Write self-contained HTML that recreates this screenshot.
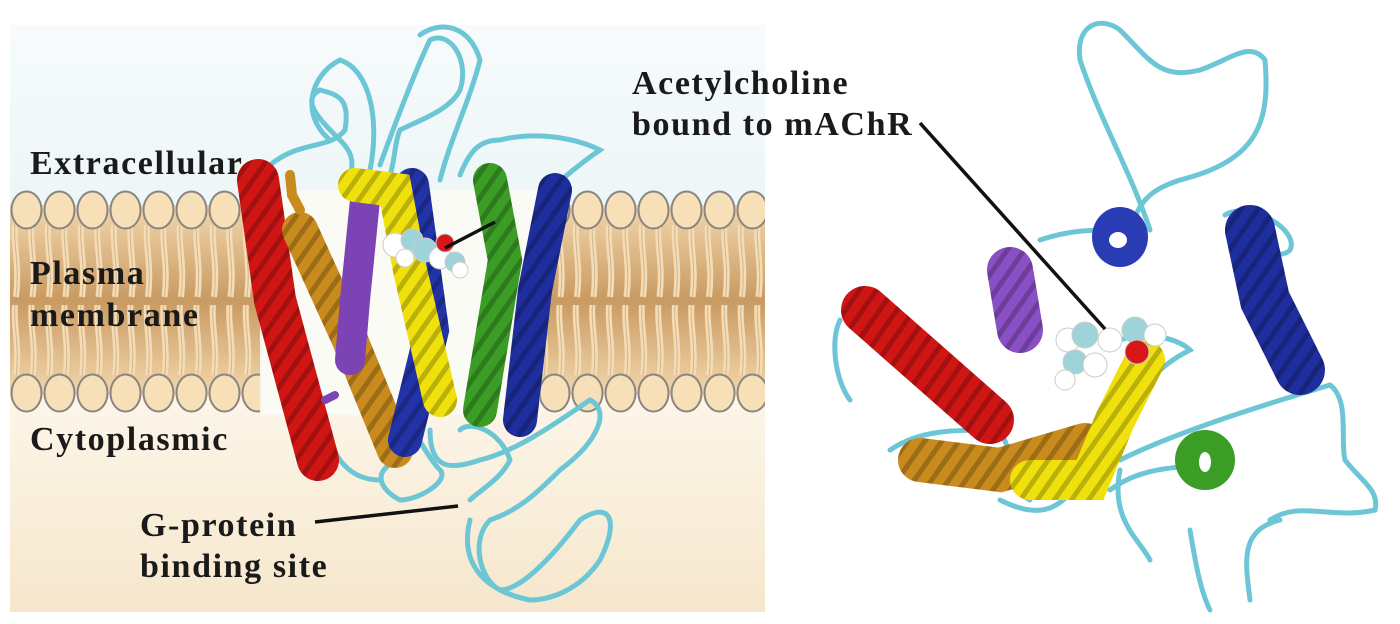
<!DOCTYPE html>
<html><head><meta charset="utf-8"><style>
html,body{margin:0;padding:0;background:#fff;width:1400px;height:624px;overflow:hidden}
svg{display:block}
.t{font-family:"Liberation Serif",serif;font-weight:bold;font-size:34px;letter-spacing:1.6px;fill:#1a1a1a}
</style></head><body>
<svg width="1400" height="624" viewBox="0 0 1400 624" xmlns="http://www.w3.org/2000/svg">
<defs>
<linearGradient id="bg" x1="0" y1="0" x2="0" y2="1">
<stop offset="0" stop-color="#f7fbfc"/><stop offset="0.3" stop-color="#edf6f8"/>
<stop offset="0.65" stop-color="#fcf5e8"/><stop offset="1" stop-color="#f6e7cc"/>
</linearGradient>
<linearGradient id="mem" x1="0" y1="0" x2="0" y2="1">
<stop offset="0" stop-color="#f2d7ad"/><stop offset="0.5" stop-color="#c99a62"/><stop offset="1" stop-color="#f2d7ad"/>
</linearGradient>
<pattern id="headsT" x="10" y="190" width="33" height="40" patternUnits="userSpaceOnUse">
<ellipse cx="16.5" cy="20" rx="15" ry="18.5" fill="#f7dfb8" stroke="#8a8580" stroke-width="2"/>
</pattern>
<pattern id="headsB" x="10" y="373" width="33" height="40" patternUnits="userSpaceOnUse">
<ellipse cx="16.5" cy="20" rx="15" ry="18.5" fill="#f7dfb8" stroke="#8a8580" stroke-width="2"/>
</pattern>
<pattern id="tails" x="10" y="225" width="16.5" height="80" patternUnits="userSpaceOnUse">
<path d="M5 0 C3 20 10 40 6 72" stroke="#f6dcb2" stroke-width="6" fill="none"/>
<path d="M5 0 C3 20 10 40 6 72" stroke="#a08f7f" stroke-width="1" fill="none" opacity="0.5"/>
</pattern>
<pattern id="stripe" width="14" height="14" patternUnits="userSpaceOnUse" patternTransform="rotate(35)">
<rect width="14" height="14" fill="none"/><rect width="5" height="14" fill="#000" opacity="0.22"/>
</pattern>
</defs>
<rect x="10" y="25" width="755" height="587" fill="url(#bg)"/>
<g>
<rect x="10" y="205" width="250" height="190" fill="url(#mem)"/>
<rect x="10" y="225" width="250" height="150" fill="url(#tails)"/>
<rect x="10" y="190" width="250" height="40" fill="url(#headsT)"/>
<rect x="10" y="373" width="250" height="40" fill="url(#headsB)"/>
</g>
<g>
<rect x="530" y="205" width="235" height="190" fill="url(#mem)"/>
<rect x="530" y="225" width="235" height="150" fill="url(#tails)"/>
<rect x="530" y="190" width="235" height="40" fill="url(#headsT)"/>
<rect x="530" y="373" width="235" height="40" fill="url(#headsB)"/>
</g>
<path d="M262 190 L540 190 L540 415 L262 415Z" fill="#fbfbf6"/>
<g fill="none" stroke="#6cc6d6" stroke-width="5" stroke-linecap="round">
<path d="M270 165 C300 140 330 150 345 130 C350 100 340 95 320 90 C300 100 320 120 340 140 C350 150 355 160 350 175"/>
<path d="M330 140 C300 115 310 75 340 60 C370 70 380 120 370 170"/>
<path d="M380 165 C400 110 420 60 430 40 C450 30 470 60 460 90 C450 110 420 120 400 130 C395 140 395 160 390 175"/>
<path d="M420 35 C440 20 470 25 480 60 C470 100 450 140 440 180"/>
<path d="M460 175 C470 150 480 140 500 140 C540 130 580 140 600 150 C585 160 560 180 545 195"/>
<path d="M400 410 C420 440 430 460 440 470 C450 480 420 500 400 500 C380 490 370 470 400 460"/>
<path d="M430 430 C430 470 450 470 480 460 C520 450 560 420 590 400 C610 410 600 440 560 470 C540 490 520 510 490 520 C470 540 480 580 500 590 C520 590 550 560 580 520 C610 500 620 520 600 560 C580 590 550 600 530 600 C480 590 460 560 470 520"/>
<path d="M460 430 C470 420 500 430 510 460 C500 480 480 490 470 500"/>
<path d="M330 440 C340 470 360 480 380 480"/>
</g>
<g stroke-linecap="round" fill="none">
<path d="M258 180 L275 300 L318 460" stroke="#d01515" stroke-width="42"/>
<path d="M258 180 L275 300 L318 460" stroke="url(#stripe)" stroke-width="42"/>
<path d="M300 230 L350 340 L395 450" stroke="#c98a1e" stroke-width="36"/>
<path d="M300 230 L350 340 L395 450" stroke="url(#stripe)" stroke-width="36"/>
<path d="M290 175 L292 195 L300 210" stroke="#c98a1e" stroke-width="10"/>
<path d="M365 200 L355 300 L350 360" stroke="#7b43b3" stroke-width="30"/>
<path d="M412 185 L432 330 L405 440" stroke="#2233a8" stroke-width="34"/>
<path d="M412 185 L432 330 L405 440" stroke="url(#stripe)" stroke-width="34"/>
<path d="M355 185 L395 190 L410 270 L440 400" stroke="#f0e10c" stroke-width="34"/>
<path d="M355 185 L395 190 L410 270 L440 400" stroke="url(#stripe)" stroke-width="34"/>
<path d="M490 180 L505 260 L480 410" stroke="#3b9c26" stroke-width="34"/>
<path d="M490 180 L505 260 L480 410" stroke="url(#stripe)" stroke-width="34"/>
<path d="M555 190 L535 290 L520 420" stroke="#1e2e9c" stroke-width="34"/>
<path d="M555 190 L535 290 L520 420" stroke="url(#stripe)" stroke-width="34"/>
<path d="M335 395 L325 400" stroke="#7b43b3" stroke-width="8"/>
</g>
<g stroke="#ccc" stroke-width="1">
<circle cx="395" cy="245" r="12" fill="#fff"/><circle cx="412" cy="240" r="11" fill="#9fd3da"/>
<circle cx="425" cy="250" r="12" fill="#9fd3da"/><circle cx="440" cy="258" r="11" fill="#fff"/>
<circle cx="455" cy="262" r="10" fill="#9fd3da"/><circle cx="445" cy="243" r="9" fill="#d81818"/>
<circle cx="405" cy="258" r="9" fill="#fff"/><circle cx="460" cy="270" r="8" fill="#fff"/>
</g>
<g fill="none" stroke="#6cc6d6" stroke-width="5" stroke-linecap="round">
<path d="M1150 230 C1130 170 1100 120 1080 60 C1075 25 1100 15 1120 30 C1150 60 1160 80 1200 70 C1230 60 1250 40 1265 60 C1270 120 1260 160 1180 180 C1150 190 1140 200 1130 230"/>
<path d="M1040 240 C1070 230 1090 230 1115 230"/>
<path d="M1225 215 C1250 200 1300 230 1290 250 C1280 260 1260 250 1250 240"/>
<path d="M1120 340 C1150 330 1180 340 1190 350 C1170 360 1140 380 1130 420"/>
<path d="M1120 460 C1180 430 1280 400 1330 385 C1350 400 1340 440 1345 460 C1360 480 1380 490 1375 510 C1330 520 1300 500 1270 520"/>
<path d="M1110 490 C1150 460 1200 470 1230 460"/>
<path d="M1190 530 C1195 560 1200 590 1210 610"/>
<path d="M1250 600 C1245 560 1240 530 1280 520"/>
<path d="M840 320 C830 340 835 380 850 400"/>
<path d="M890 450 C920 430 950 430 1000 430 C1020 470 1010 490 1030 500"/>
<path d="M1000 500 C1040 520 1060 510 1080 480"/>
<path d="M1120 470 C1110 520 1140 540 1150 560"/>
</g>
<g stroke-linecap="round" fill="none">
<path d="M865 310 L990 420" stroke="#d01515" stroke-width="48"/>
<path d="M865 310 L990 420" stroke="url(#stripe)" stroke-width="48"/>
<path d="M920 460 L1000 470 L1085 445" stroke="#c98a1e" stroke-width="44"/>
<path d="M920 460 L1000 470 L1085 445" stroke="url(#stripe)" stroke-width="44"/>
<path d="M1145 360 L1115 420 L1090 480 L1030 480" stroke="#f0e10c" stroke-width="40"/>
<path d="M1145 360 L1115 420 L1090 480 L1030 480" stroke="url(#stripe)" stroke-width="40"/>
<path d="M1010 270 L1020 330" stroke="#8a4fc4" stroke-width="46"/>
<path d="M1010 270 L1020 330" stroke="url(#stripe)" stroke-width="46"/>
<path d="M1250 230 L1265 300 L1300 370" stroke="#1e2e9c" stroke-width="50"/>
<path d="M1250 230 L1265 300 L1300 370" stroke="url(#stripe)" stroke-width="50"/>
</g>
<ellipse cx="1120" cy="237" rx="28" ry="30" fill="#2a3cb3"/>
<ellipse cx="1118" cy="240" rx="9" ry="8" fill="#fff"/>
<ellipse cx="1205" cy="460" rx="30" ry="30" fill="#3b9c26"/>
<ellipse cx="1205" cy="462" rx="6" ry="10" fill="#fff"/>
<g stroke="#ccc" stroke-width="1">
<circle cx="1068" cy="340" r="12" fill="#fff"/><circle cx="1085" cy="335" r="13" fill="#9fd3da"/>
<circle cx="1075" cy="362" r="12" fill="#9fd3da"/><circle cx="1095" cy="365" r="12" fill="#fff"/>
<circle cx="1110" cy="340" r="12" fill="#fff"/><circle cx="1135" cy="330" r="13" fill="#9fd3da"/>
<circle cx="1155" cy="335" r="11" fill="#fff"/><circle cx="1065" cy="380" r="10" fill="#fff"/>
<circle cx="1137" cy="352" r="12" fill="#d81818"/>
</g>
<g stroke="#111" stroke-width="3.5">
<line x1="495" y1="222" x2="445" y2="248"/>
<line x1="920" y1="123" x2="1105" y2="329"/>
<line x1="315" y1="522" x2="458" y2="506"/>
</g>
<text class="t" x="30" y="174">Extracellular</text>
<text class="t" x="30" y="284">Plasma</text>
<text class="t" x="30" y="326">membrane</text>
<text class="t" x="30" y="450">Cytoplasmic</text>
<text class="t" x="140" y="536">G-protein</text>
<text class="t" x="140" y="577">binding site</text>
<text class="t" x="632" y="94">Acetylcholine</text>
<text class="t" x="632" y="135">bound to mAChR</text>
</svg>
</body></html>
